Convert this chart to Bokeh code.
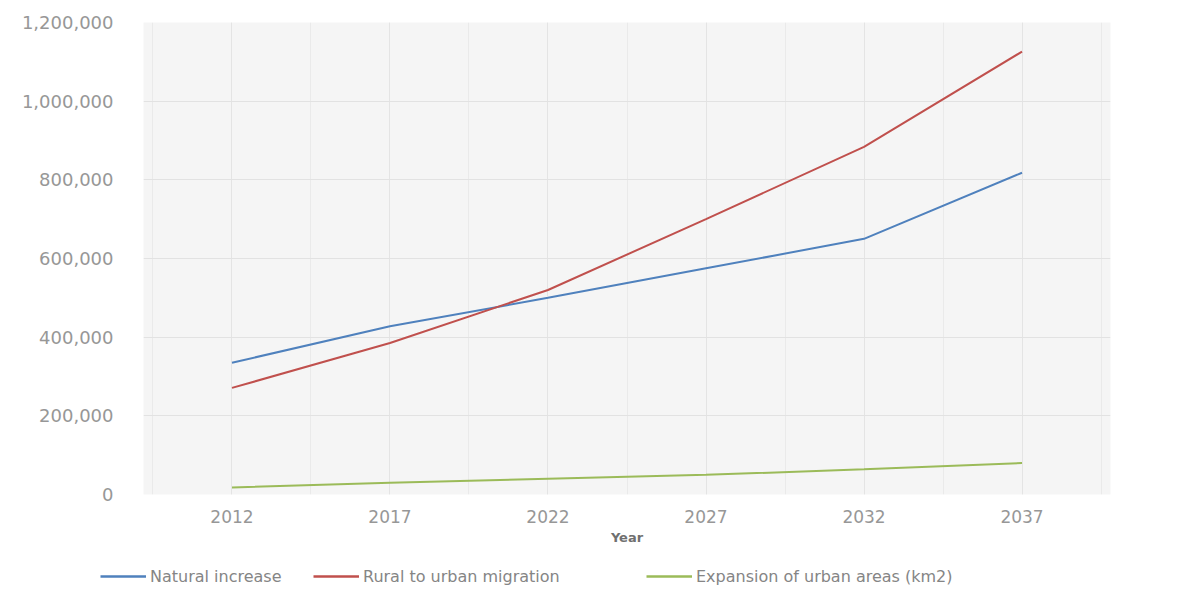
from bokeh.plotting import figure
from bokeh.models import (ColumnDataSource, FixedTicker, NumeralTickFormatter,
                          Legend, LegendItem, Range1d)
from bokeh.embed import file_html
from bokeh.resources import INLINE

years = [2012, 2017, 2022, 2027, 2032, 2037]
natural_increase = [335000, 428000, 500000, 575000, 650000, 818000]
rural_to_urban = [271000, 385000, 520000, 700000, 884000, 1126000]
urban_expansion = [18000, 30000, 40000, 50000, 64000, 80000]
series_names = ["Natural increase", "Rural to urban migration",
                "Expansion of urban areas (km2)"]
y_ticks = [0, 200000, 400000, 600000, 800000, 1000000, 1200000]
colors = ["#4F81BD", "#C0504D", "#9BBB59"]
FONT = "DejaVu Sans"

src = ColumnDataSource(dict(x=years, a=natural_increase, b=rural_to_urban,
                            c=urban_expansion))

p = figure(width=1160, height=556, output_backend="svg", toolbar_location=None,
           x_range=Range1d(2009.2, 2039.8), y_range=Range1d(0, 1200000),
           min_border_left=143, min_border_right=50, min_border_top=22,
           min_border_bottom=62)
p.outline_line_color = None
p.background_fill_color = "#f5f5f5"
p.border_fill_color = "white"

p.line("x", "a", source=src, line_color=colors[0], line_width=2)
p.line("x", "b", source=src, line_color=colors[1], line_width=2)
p.line("x", "c", source=src, line_color=colors[2], line_width=2)

p.xaxis.ticker = FixedTicker(ticks=years,
                             minor_ticks=[2009.5 + 2.5 * i for i in range(13)])
p.yaxis.ticker = FixedTicker(ticks=y_ticks)
p.yaxis.formatter = NumeralTickFormatter(format="0,0")

for ax in (p.xaxis[0], p.yaxis[0]):
    ax.axis_line_color = None
    ax.major_tick_line_color = None
    ax.minor_tick_line_color = None
    ax.major_label_text_color = "#979797"
    ax.major_label_text_font = FONT
p.xaxis.major_label_text_font_size = "17px"
p.yaxis.major_label_text_font_size = "18px"
p.yaxis.major_label_standoff = 24
p.xaxis.major_label_standoff = 9
p.xaxis.axis_label = "Year"
p.xaxis.axis_label_text_font = FONT
p.xaxis.axis_label_text_font_size = "13px"
p.xaxis.axis_label_text_font_style = "bold"
p.xaxis.axis_label_text_color = "#707070"
p.xaxis.axis_label_standoff = 4

p.xgrid.grid_line_color = "#e4e4e4"
p.xgrid.minor_grid_line_color = "#eaeaea"
p.ygrid.grid_line_color = "#e2e2e2"

# legend strip below the chart (separate root so it can start left of the frame)
lf = figure(width=1160, height=46, output_backend="svg", toolbar_location=None,
            x_range=Range1d(0, 1), y_range=Range1d(0, 1),
            min_border=0, x_axis_type=None, y_axis_type=None)
lf.outline_line_color = None
lf.background_fill_color = "white"
lf.border_fill_color = "white"
lf.xgrid.visible = False
lf.ygrid.visible = False
far = ColumnDataSource(dict(x=[-10, -9], y=[-10, -9]))
lr = [lf.line("x", "y", source=far, line_color=c, line_width=2.5) for c in colors]

item_x = [100, 313, 646]
for name, r, x0 in zip(series_names, lr, item_x):
    lg = Legend(items=[LegendItem(label=name, renderers=[r])],
                location=(x0, 16), glyph_width=46, glyph_height=20,
                label_height=20, label_standoff=4,
                label_text_font=FONT, label_text_font_size="16px",
                label_text_color="#858585", background_fill_alpha=0,
                border_line_color=None, padding=0, margin=0)
    lf.add_layout(lg, "center")

open("out.html", "w").write(file_html([p, lf], INLINE))
